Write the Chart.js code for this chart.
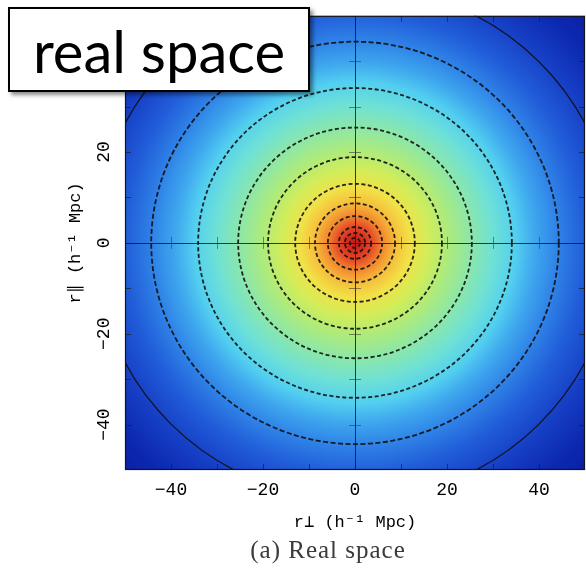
<!DOCTYPE html>
<html>
<head>
<meta charset="utf-8">
<script src="https://cdn.jsdelivr.net/npm/chart.js@4"></script>
<style>
  html, body { margin: 0; padding: 0; background: #fff; }
  #wrap { position: relative; width: 586px; height: 569px; }
  canvas { display: block; }
  #tag {
    position: absolute; left: 8px; top: 7px; width: 298px; height: 81px;
    border: 2px solid #000; background: #fff;
    box-shadow: 3px 3px 4px rgba(0,0,0,0.45);
    font-family: Lato, "Open Sans", sans-serif; font-size: 58px;
    line-height: 84px; text-align: center; color: #000;
  }
</style>
</head>
<body>
<div id="wrap">
  <canvas id="c" width="586" height="569"></canvas>
  <div id="tag">real space</div>
</div>
<script>
// Axis ranges and tick values (h^-1 Mpc)
const axisMin = -50;
const axisMax = 50;
const xTicks = [-40, -20, 0, 20, 40];
const yTicks = [-40, -20, 0, 20, 40];
const markTicks = [-40, -30, -20, -10, 0, 10, 20, 30, 40];

// Contour radii of the correlation function (h^-1 Mpc), outermost first
const contourRadii = [56.5, 44.3, 34.1, 25.4, 18.9, 13.0, 8.7, 5.9, 3.5, 2.2, 1.1];

// Radial profile of the colour-coded amplitude (normalised 0..1)
const profileRadii  = [0, 2, 4, 6, 9, 12, 16, 20, 25, 30, 35, 39, 44, 50, 57, 65, 72];
const profileLevels = [0.98, 0.92, 0.86, 0.80, 0.72, 0.65, 0.59, 0.54, 0.49, 0.44, 0.38, 0.33, 0.28, 0.22, 0.16, 0.10, 0.04];

const xTitle = 'r\u22A5 (h\u207B\u00B9 Mpc)';
const yTitle = 'r\u2225 (h\u207B\u00B9 Mpc)';
const caption = '(a) Real space';

// jet-like colour map: level -> colour
const palette = [
  [0.00, [8, 24, 150]],
  [0.10, [12, 40, 176]],
  [0.20, [28, 80, 212]],
  [0.30, [52, 144, 236]],
  [0.38, [82, 207, 240]],
  [0.45, [116, 228, 208]],
  [0.52, [160, 234, 136]],
  [0.58, [204, 238, 92]],
  [0.64, [240, 230, 72]],
  [0.72, [246, 192, 60]],
  [0.80, [242, 136, 46]],
  [0.88, [226, 62, 38]],
  [1.00, [190, 18, 18]]
];
function levelColor(t) {
  for (let i = 1; i < palette.length; i++) {
    const [t1, c1] = palette[i];
    const [t0, c0] = palette[i - 1];
    if (t <= t1) {
      const f = (t - t0) / (t1 - t0);
      const c = c0.map((v, k) => Math.round(v + (c1[k] - v) * f));
      return `rgb(${c[0]},${c[1]},${c[2]})`;
    }
  }
  const c = palette[palette.length - 1][1];
  return `rgb(${c[0]},${c[1]},${c[2]})`;
}

const fmt = v => (v < 0 ? '\u2212' + Math.abs(v) : String(v));
const monoFamily = "'Liberation Mono', 'DejaVu Sans Mono', monospace";

// Colour field, contours, centre cross and frame
const fieldPlugin = {
  id: 'field',
  beforeDatasetsDraw(chart) {
    const { ctx, chartArea: a, scales: { x, y } } = chart;
    const cx = x.getPixelForValue(0);
    const cy = y.getPixelForValue(0);
    const rMax = profileRadii[profileRadii.length - 1];
    const R = x.getPixelForValue(rMax) - cx;

    ctx.save();
    ctx.beginPath();
    ctx.rect(a.left, a.top, a.right - a.left, a.bottom - a.top);
    ctx.clip();

    const g = ctx.createRadialGradient(cx, cy, 0, cx, cy, R);
    profileRadii.forEach((r, i) => g.addColorStop(r / rMax, levelColor(profileLevels[i])));
    ctx.fillStyle = g;
    ctx.fillRect(a.left, a.top, a.right - a.left, a.bottom - a.top);

    // contours
    ctx.strokeStyle = 'rgba(15,15,15,0.9)';
    contourRadii.forEach((r, i) => {
      const rx = x.getPixelForValue(r) - cx;
      const ry = cy - y.getPixelForValue(r);
      ctx.lineWidth = i === 0 ? 1.3 : 1.8;
      ctx.setLineDash(i === 0 ? [] : (r > 40 ? [5, 2.5] : [4, 2.5]));
      ctx.beginPath();
      ctx.ellipse(cx, cy, rx, ry, 0, 0, Math.PI * 2);
      ctx.stroke();
    });
    ctx.setLineDash([]);

    // centre cross
    ctx.strokeStyle = 'rgba(25,25,25,0.85)';
    ctx.lineWidth = 1;
    ctx.beginPath();
    ctx.moveTo(a.left, Math.round(cy) + 0.5); ctx.lineTo(a.right, Math.round(cy) + 0.5);
    ctx.moveTo(Math.round(cx) + 0.5, a.top); ctx.lineTo(Math.round(cx) + 0.5, a.bottom);
    ctx.stroke();

    // tick marks along the cross
    ctx.strokeStyle = 'rgba(60,60,60,0.6)';
    ctx.beginPath();
    markTicks.forEach(v => {
      if (v === 0) return;
      const px = Math.round(x.getPixelForValue(v)) + 0.5;
      const py = Math.round(y.getPixelForValue(v)) + 0.5;
      ctx.moveTo(px, cy - 6); ctx.lineTo(px, cy + 6);
      ctx.moveTo(cx - 6, py); ctx.lineTo(cx + 6, py);
    });
    ctx.stroke();

    // tick marks on the frame
    ctx.strokeStyle = 'rgba(30,30,30,0.7)';
    ctx.beginPath();
    markTicks.forEach(v => {
      const px = Math.round(x.getPixelForValue(v)) + 0.5;
      const py = Math.round(y.getPixelForValue(v)) + 0.5;
      ctx.moveTo(px, a.bottom); ctx.lineTo(px, a.bottom - 6);
      ctx.moveTo(px, a.top); ctx.lineTo(px, a.top + 6);
      ctx.moveTo(a.left, py); ctx.lineTo(a.left + 6, py);
      ctx.moveTo(a.right, py); ctx.lineTo(a.right - 6, py);
    });
    ctx.stroke();
    ctx.restore();

    // frame
    ctx.save();
    ctx.strokeStyle = '#151515';
    ctx.lineWidth = 1.2;
    ctx.strokeRect(a.left + 0.5, a.top + 0.5, a.right - a.left - 1, a.bottom - a.top - 1);
    ctx.restore();
  },
  afterDraw(chart) {
    const { ctx } = chart;
    ctx.save();
    ctx.font = "25px 'Liberation Serif', 'DejaVu Serif', serif";
    ctx.letterSpacing = '1px';
    ctx.fillStyle = '#3a3a3a';
    ctx.textAlign = 'center';
    ctx.textBaseline = 'alphabetic';
    ctx.fillText(caption, 328, 558);
    ctx.restore();
  }
};

new Chart(document.getElementById('c'), {
  type: 'scatter',
  data: { datasets: [] },
  options: {
    responsive: false,
    animation: false,
    layout: { padding: { top: 10, right: 1, left: 0, bottom: 0 } },
    plugins: { legend: { display: false }, tooltip: { enabled: false } },
    scales: {
      x: {
        type: 'linear', position: 'bottom', min: axisMin, max: axisMax,
        grid: { display: false, drawTicks: false },
        border: { display: false },
        afterBuildTicks: s => { s.ticks = xTicks.map(v => ({ value: v })); },
        ticks: { callback: fmt, font: { family: monoFamily, size: 18 }, color: '#000',
                 padding: 9, minRotation: 0, maxRotation: 0, autoSkip: false },
        title: { display: true, text: xTitle, font: { family: monoFamily, size: 17 },
                 color: '#000', padding: { top: 0, bottom: 36 } },
        afterFit: s => { s.height = 99; }
      },
      y: {
        type: 'linear', position: 'left', min: axisMin, max: axisMax,
        grid: { display: false, drawTicks: false },
        border: { display: false },
        afterBuildTicks: s => { s.ticks = yTicks.map(v => ({ value: v })); },
        ticks: { callback: fmt, font: { family: monoFamily, size: 18 }, color: '#000',
                 padding: 5, minRotation: 90, maxRotation: 90, crossAlign: 'center', autoSkip: false },
        title: { display: true, text: yTitle, font: { family: monoFamily, size: 17 },
                 color: '#000', padding: { top: 65, bottom: 0 } },
        afterFit: s => { s.width = 125; }
      }
    }
  },
  plugins: [fieldPlugin]
});
</script>
</body>
</html>
